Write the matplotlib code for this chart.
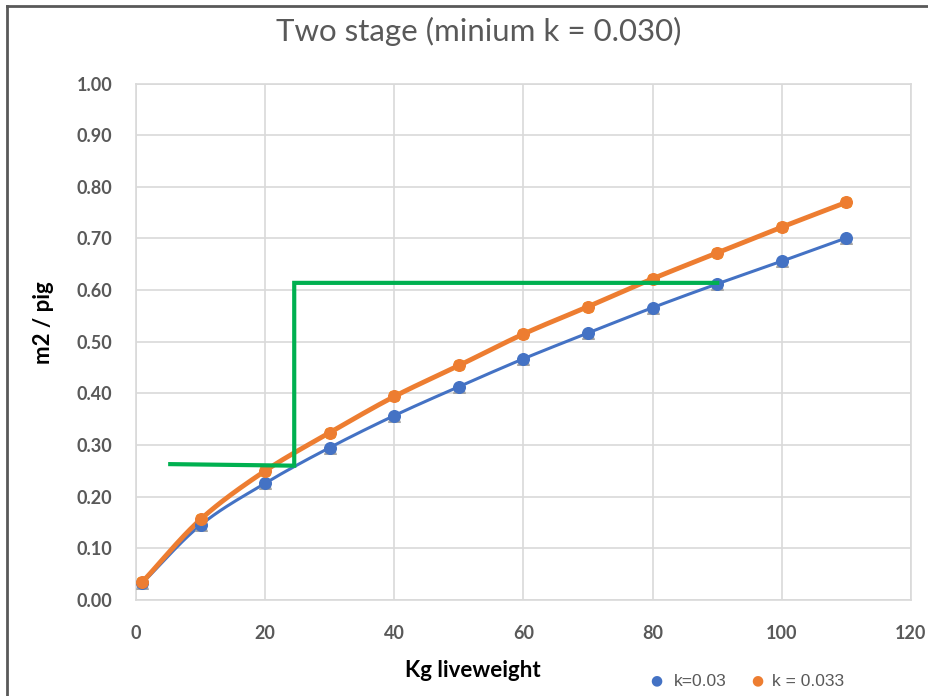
import numpy as np
import matplotlib.pyplot as plt

# datos
weight = [1, 10, 20, 30, 40, 50, 60, 70, 80, 90, 100, 110]
area_k030 = [0.033, 0.145, 0.226, 0.295, 0.357, 0.413, 0.467, 0.517, 0.566, 0.612, 0.656, 0.701]
area_k033 = [0.035, 0.156, 0.250, 0.324, 0.394, 0.454, 0.515, 0.568, 0.622, 0.672, 0.722, 0.770]

# lineas de las dos etapas
stage_x = [5.3, 24.5, 24.5, 90]
stage_y = [0.263, 0.260, 0.614, 0.614]


def smooth(x, y, n=30):
    # Catmull-Rom, como la linea suavizada de Excel
    x = np.asarray(x, float)
    y = np.asarray(y, float)
    px = np.concatenate([[2 * x[0] - x[1]], x, [2 * x[-1] - x[-2]]])
    py = np.concatenate([[2 * y[0] - y[1]], y, [2 * y[-1] - y[-2]]])
    t = np.linspace(0, 1, n)
    ox, oy = [], []
    for i in range(1, len(px) - 2):
        for p, o in ((px, ox), (py, oy)):
            p0, p1, p2, p3 = p[i - 1], p[i], p[i + 1], p[i + 2]
            o.extend(0.5 * (2 * p1 + (-p0 + p2) * t + (2 * p0 - 5 * p1 + 4 * p2 - p3) * t ** 2
                            + (-p0 + 3 * p1 - 3 * p2 + p3) * t ** 3))
    return ox, oy


fig = plt.figure(figsize=(9.29, 6.96), dpi=100)
ax = fig.add_axes([0.1464, 0.138, 0.8342, 0.742])

sx, sy = smooth(weight, area_k030)
ax.plot(sx, sy, color='#4472c4', lw=2.2, zorder=3)
sx, sy = smooth(weight, area_k033)
ax.plot(sx, sy, color='#ed7d31', lw=3.5, zorder=3)

ax.scatter(weight, area_k030, marker='^', s=70, color='#a5a5a5', zorder=4)
ax.scatter(weight, area_k030, marker='o', s=70, color='#4472c4', zorder=5)
ax.scatter(weight, area_k033, marker='x', s=45, color='#ffc000', lw=1.5, zorder=4)
ax.scatter(weight, area_k033, marker='o', s=70, color='#ed7d31', zorder=5)

ax.plot(stage_x, stage_y, color='#00b050', lw=3, zorder=6, solid_joinstyle='miter')

ax.set_xlim(0, 120)
ax.set_ylim(0, 1.0)
ax.set_xticks(np.arange(0, 121, 20))
ax.set_yticks(np.arange(0, 1.01, 0.1))
ax.set_yticklabels([f'{v:.2f}' for v in np.arange(0, 1.01, 0.1)])
ax.grid(True, color='#d9d9d9', lw=1.2)
ax.set_axisbelow(True)
for s in ax.spines.values():
    s.set_color('#d9d9d9')
    s.set_linewidth(1.2)
ax.tick_params(axis='y', length=0, labelsize=13, labelcolor='#595959', pad=17)
ax.tick_params(axis='x', length=0, labelsize=13, labelcolor='#595959', pad=18)
for lab in ax.get_xticklabels() + ax.get_yticklabels():
    lab.set_fontweight('bold')
    lab.set_family('Lato')

fig.text(0.515, 0.955, 'Two stage (minium k = 0.030)', ha='center', va='center',
         fontsize=22.5, color='#595959', family='Lato')
fig.text(0.509, 0.037, 'Kg liveweight', ha='center', va='center',
         fontsize=16, fontweight='bold', family='Lato')
fig.text(0.047, 0.537, 'm2 / pig', ha='center', va='center', rotation=90,
         fontsize=16, fontweight='bold', family='Lato')

# leyenda manual
fig.text(0.707, 0.022, '●', color='#4472c4', fontsize=10, ha='center', va='center')
fig.text(0.725, 0.021, 'k=0.03', color='#595959', fontsize=12.5, va='center', family='Liberation Sans')
fig.text(0.815, 0.022, '●', color='#ed7d31', fontsize=10, ha='center', va='center')
fig.text(0.831, 0.021, 'k = 0.033', color='#595959', fontsize=12.5, va='center', family='Liberation Sans')

# borde del recuadro
fig.add_artist(plt.Line2D([0.0078, 0.0078], [0, 0.992], color='#595959', lw=2, transform=fig.transFigure))
fig.add_artist(plt.Line2D([0.0078, 1], [0.992, 0.992], color='#595959', lw=2, transform=fig.transFigure))

plt.savefig('out.png', dpi=100)
